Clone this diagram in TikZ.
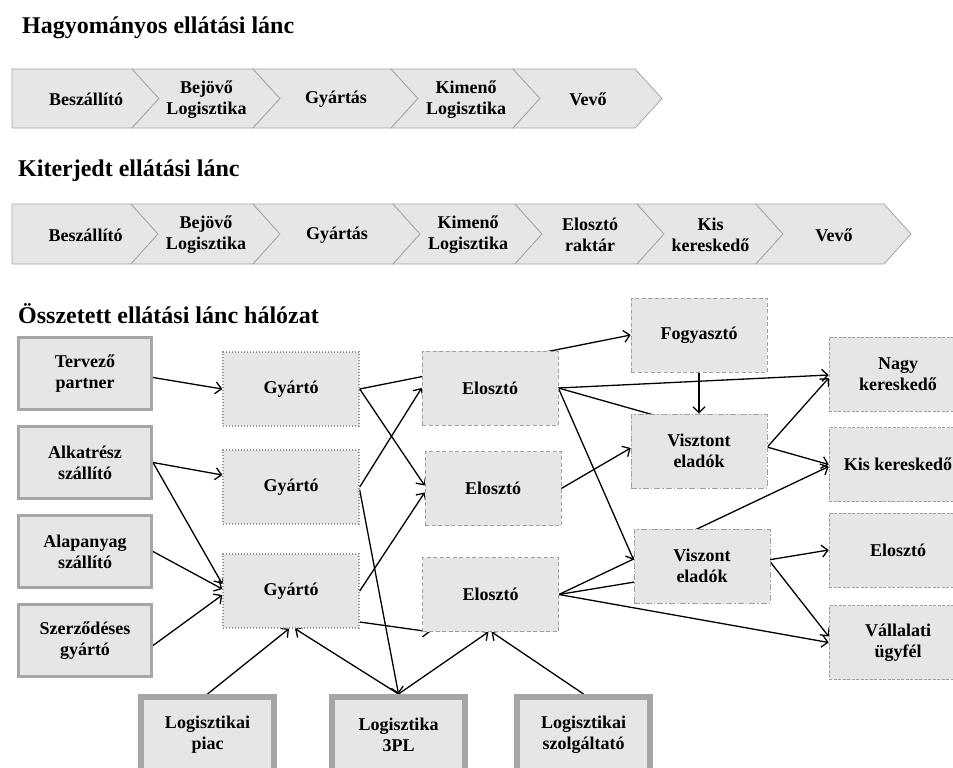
\documentclass[tikz,border=0pt]{standalone}
\usepackage{fontspec}
\setmainfont{Liberation Serif}
\usetikzlibrary{arrows.meta,backgrounds,calc,positioning}
\definecolor{boxfill}{HTML}{E6E6E6}
\definecolor{boxline}{HTML}{A6A6A6}
\tikzset{
  lbl/.style={font=\bfseries\fontsize{18}{21}\selectfont, align=center},
  cim/.style={font=\bfseries\fontsize{24}{28}\selectfont, anchor=base west, inner sep=0pt},
  dob/.style={lbl, fill=boxfill, minimum width=136pt, minimum height=74pt, inner sep=2pt},
  partner/.style={dob, draw=boxline, line width=3pt, minimum width=133pt, minimum height=72pt},
  szolg/.style={dob, draw=boxline, line width=6pt, minimum width=133pt, minimum height=76pt},
  gyar/.style={dob, draw=gray!85, line width=1.4pt, dash pattern=on 1.4pt off 1.6pt},
  eloszt/.style={dob, draw=gray!75, line width=0.7pt, dash pattern=on 4pt off 2.5pt},
  visz/.style={dob, draw=gray!75, line width=0.7pt, dash pattern=on 6pt off 2pt on 1.5pt off 2pt},
  vevo/.style={dob, draw=gray!75, line width=0.6pt, dash pattern=on 3pt off 1.5pt, minimum width=138pt},
  nyil/.style={-{Straight Barb[length=6pt,width=12pt]}, line width=1.3pt},
  chev/.style={fill=boxfill, draw=boxline, line width=0.8pt},
}
\begin{document}
\begin{tikzpicture}[x=1pt,y=-1pt]
\useasboundingbox (0,0) rectangle (953,768);

% Hagyomanyos lanc
\node[cim] (c1) at (22,34) {Hagyományos ellátási lánc};
\foreach \xl/\xr/\szoveg [count=\i] in {12/132/Beszállító, 132/253/{Bejövő\\Logisztika}, 253/391/Gyártás, 391/513/{Kimenő\\Logisztika}, 513/635/Vevő}{
  \pgfmathsetmacro\bemet{\i==1 ? 0 : 27}
  \draw[chev] (\xl,69) -- (\xr,69) -- (\xr+27,98.5) -- (\xr,128) -- (\xl,128) -- (\xl+\bemet,98.5) -- cycle;
  \node[lbl] (h\i) at ({(\xl+\xr)/2+14},99.5) {\szoveg};
}

% Kiterjedt lanc
\node[cim] (c2) at (18,176) {Kiterjedt ellátási lánc};
\foreach \xl/\xr/\szoveg [count=\i] in {12/131/Beszállító, 131/253/{Bejövő\\Logisztika}, 253/393/Gyártás, 393/515/{Kimenő\\Logisztika}, 515/637/{Elosztó\\raktár}, 637/756/{Kis\\kereskedő}, 756/884/Vevő}{
  \pgfmathsetmacro\bemet{\i==1 ? 0 : 27}
  \draw[chev] (\xl,204) -- (\xr,204) -- (\xr+27,234) -- (\xr,264) -- (\xl,264) -- (\xl+\bemet,234) -- cycle;
  \node[lbl] (k\i) at ({(\xl+\xr)/2+14},235) {\szoveg};
}

% Osszetett halozat
\node[cim] (c3) at (18,323) {Összetett ellátási lánc hálózat};

% partnerek
\node[partner] (tp) at (85,373.5) {Tervező\\partner};
\node[partner, below=14pt of tp] (ak) {Alkatrész\\szállító};
\node[partner, below=14pt of ak] (ap) {Alapanyag\\szállító};
\node[partner, below=14pt of ap] (sz) {Szerződéses\\gyártó};

% gyartok
\node[gyar] (g1) at (291,389) {Gyártó};
\node[gyar] (g2) at (291,487) {Gyártó};
\node[gyar] (g3) at (291,591) {Gyártó};

% elosztok
\node[eloszt] (e1) at (490,388) {Elosztó};
\node[eloszt] (e2) at (493,488.5) {Elosztó};
\node[eloszt] (e3) at (490.5,594.5) {Elosztó};

\node[eloszt] (fo) at (699,335) {Fogyasztó};
\node[visz] (vt) at (699,451) {Visztont\\eladók};
\node[visz] (vo) at (702,566) {Viszont\\eladók};

% vevok
\node[vevo] (nk) at (898,374) {Nagy\\kereskedő};
\node[vevo] (kk) at (898,464.5) {Kis kereskedő};
\node[vevo] (er) at (898,550) {Elosztó};
\node[vevo] (va) at (898,642.5) {Vállalati\\ügyfél};

% logisztika
\node[szolg] (pi) at (207.5,735) {Logisztikai\\piac};
\node[szolg] (pl) at (398.5,735) {Logisztika\\3PL};
\node[szolg] (sg) at (583.5,735) {Logisztikai\\szolgáltató};

\begin{scope}[on background layer]
  \draw[nyil] ($(tp.east)+(0,4)$) -- (g1.west);
  \draw[nyil] (ak.east) -- ($(g2.west)+(0,-12)$);
  \draw[nyil] (ak.east) -- ($(g3.west)+(0,-7)$);
  \draw[nyil] (ap.east) -- ($(g3.west)+(0,-2)$);
  \draw[nyil] ($(sz.east)+(0,5)$) -- ($(g3.west)+(0,4)$);

  \draw[nyil] (g1.east) -- (fo.west);
  \draw[nyil] (g1.east) -- ($(e2.west)+(0,-3)$);
  \draw[nyil] (g2.east) -- (e1.west);
  \draw[nyil] ($(g2.east)+(0,3)$) -- (pl.north);
  \draw[nyil] (g3.east) -- ($(e2.west)+(0,4)$);
  \draw[nyil] ($(g3.east)+(0,31)$) -- ($(e3.south west)+(8,0)$);

  \draw[nyil] (pi.north) -- ($(g3.south)+(-2,0)$);
  \draw[nyil] (pl.north) -- ($(g3.south)+(4,0)$);
  \draw[nyil] (pl.north) -- ($(e3.south)+(-2,0)$);
  \draw[nyil] (sg.north) -- ($(e3.south)+(1,0)$);

  \draw[nyil] (e1.east) -- ($(nk.west)+(0,1)$);
  \draw[nyil] (e1.east) -- (kk.west);
  \draw[nyil] (e1.east) -- ($(vo.west)+(0,-6)$);
  \draw[nyil] (e2.east) -- ($(vt.west)+(0,-3)$);
  \draw[nyil] (e3.east) -- ($(kk.west)+(0,2)$);
  \draw[nyil] (e3.east) -- (er.west);
  \draw[nyil] (e3.east) -- (va.west);

  \draw[nyil] (fo.south) -- (vt.north);
  \draw[nyil] ($(vt.east)+(0,-4)$) -- ($(nk.west)+(0,4)$);
  \draw[nyil] ($(vo.east)+(0,-4)$) -- ($(va.west)+(0,-6)$);
\end{scope}
\end{tikzpicture}
\end{document}
